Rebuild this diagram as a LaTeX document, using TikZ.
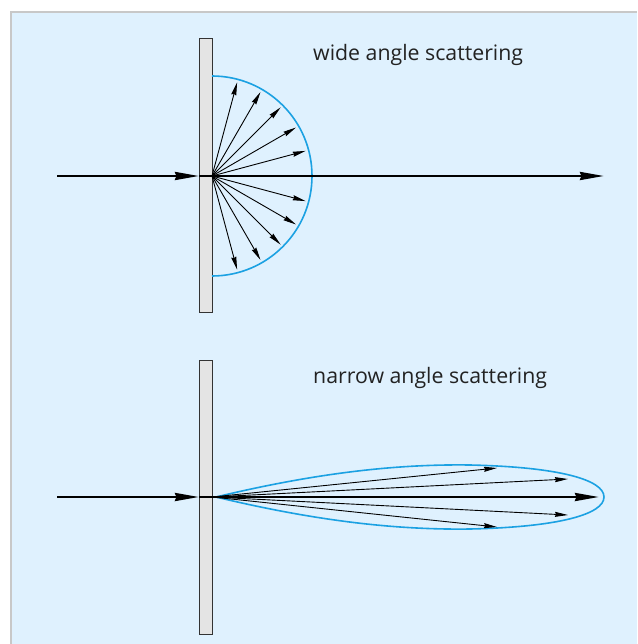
\documentclass[tikz,border=0pt]{standalone}
\usepackage{fontspec}
\setmainfont{Open Sans}
\usetikzlibrary{arrows.meta}
\definecolor{bg}{HTML}{DFF1FE}
\definecolor{frame}{HTML}{C8C8C8}
\definecolor{plate}{HTML}{E4E4E4}
\definecolor{lobe}{HTML}{1BA1E2}
\definecolor{txt}{HTML}{222222}
\tikzset{
  platebox/.style={fill=plate,draw=black!80,line width=0.9pt},
  mainray/.style={line width=2.6pt,-{Stealth[length=24pt,width=8pt,inset=1.5pt]}},
  ray/.style={line width=0.9pt,-{Stealth[length=13pt,width=5pt,inset=1pt]}},
  envelope/.style={draw=lobe,line width=1.6pt},
  caption/.style={anchor=base west,text=txt,font=\fontsize{21.3}{25}\selectfont,inner sep=0pt}
}
\begin{document}
\begin{tikzpicture}[x=1pt,y=-1pt]
\useasboundingbox (0,0) rectangle (637,644);
\fill[bg] (10,11) rectangle (637,644);
\draw[frame,line width=2pt] (11,644) -- (11,12) -- (637,12);
% ---------- wide angle ----------
\coordinate (c1) at (212,176);
\node[platebox,minimum width=13pt,minimum height=274pt,inner sep=0pt,anchor=north west] (p1) at (199,38) {};
\draw[envelope] (212,76) arc[start angle=-90,end angle=90,radius=100];
\foreach \a in {15,30,45,60,75,-15,-30,-45,-60,-75}
  \draw[ray] (c1) -- ++(\a:97);
\coordinate (s1) at (57,176);
\coordinate (e1) at (604,176);
\draw[mainray] (s1) -- (p1.west |- c1);
\draw[mainray] (p1.west |- c1) -- (e1);
\node[caption] (t1) at (313,61) {wide angle scattering};
% ---------- narrow angle ----------
\coordinate (c2) at (212,497);
\node[platebox,minimum width=13pt,minimum height=274pt,inner sep=0pt,anchor=north west] (p2) at (199,360) {};
\draw[envelope] (216,497) .. controls (320,472) and (400,464) .. (470,465)
  .. controls (560,467) and (604,480) .. (604,497)
  .. controls (604,514) and (560,527) .. (470,529)
  .. controls (400,530) and (320,522) .. (216,497) -- cycle;
\foreach \p in {(497,468),(568,479),(568,515),(497,527)}
  \draw[ray] (c2) -- \p;
\coordinate (s2) at (57,497);
\coordinate (e2) at (599,497);
\draw[mainray] (s2) -- (p2.west |- c2);
\draw[mainray] (p2.west |- c2) -- (e2);
\node[caption] (t2) at (313,383) {narrow angle scattering};
\end{tikzpicture}
\end{document}
